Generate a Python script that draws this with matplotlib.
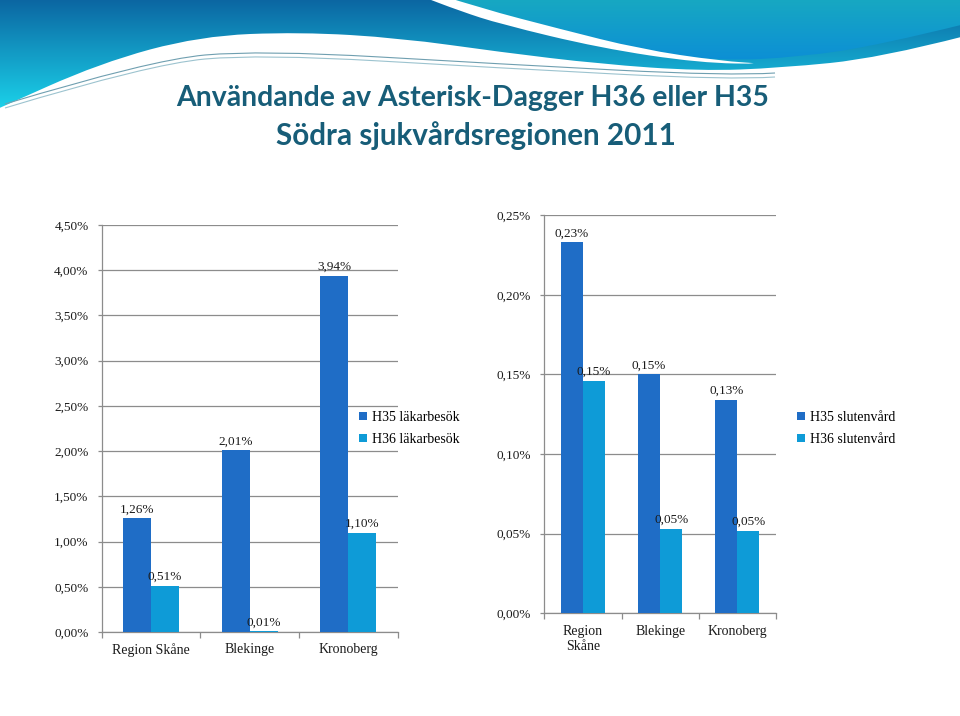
import matplotlib
matplotlib.use("Agg")
import matplotlib.pyplot as plt
import numpy as np
from matplotlib.path import Path
from matplotlib.patches import PathPatch, Patch
from matplotlib.colors import LinearSegmentedColormap
from matplotlib import font_manager as fm

# ---------------- data ----------------
categories_left = ["Region Skåne", "Blekinge", "Kronoberg"]
h35_lakarbesok = [1.26, 2.01, 3.94]
h36_lakarbesok = [0.51, 0.01, 1.10]
left_yticks = [0.0, 0.5, 1.0, 1.5, 2.0, 2.5, 3.0, 3.5, 4.0, 4.5]

categories_right = ["Region\nSkåne", "Blekinge", "Kronoberg"]
h35_slutenvard = [0.233, 0.150, 0.134]
h36_slutenvard = [0.146, 0.053, 0.052]
right_yticks = [0.0, 0.05, 0.10, 0.15, 0.20, 0.25]

legend_left = ["H35 läkarbesök", "H36 läkarbesök"]
legend_right = ["H35 slutenvård", "H36 slutenvård"]
title_lines = ["Användande av Asterisk-Dagger H36 eller H35",
               "Södra sjukvårdsregionen 2011"]

# ---------------- style ----------------
C35 = "#1f6dc6"
C36 = "#0e9bd7"
GRID = "#8c8c8c"
TITLE_C = "#175d78"
SERIF = ["Liberation Serif", "DejaVu Serif"]


def has_font(name):
    try:
        fm.findfont(fm.FontProperties(family=name), fallback_to_default=False)
        return True
    except Exception:
        return False


TITLE_FAMILY = [f for f in ["Lato", "Open Sans", "DejaVu Sans"] if has_font(f)][:1] + ["DejaVu Sans"]

W, H = 960, 716
fig = plt.figure(figsize=(W / 100, H / 100), dpi=100)
fig.patch.set_facecolor("white")

# ---------------- decorative header ----------------
bg = fig.add_axes([0, 0, 1, 1], zorder=-10)
bg.set_xlim(0, W)
bg.set_ylim(H, 0)
bg.axis("off")


def smooth_path(top_pts, curve_pts):
    verts, codes = [], []
    for i, p in enumerate(top_pts):
        verts.append(p)
        codes.append(Path.MOVETO if i == 0 else Path.LINETO)
    pts = np.array(curve_pts, float)
    verts.append(tuple(pts[0]))
    codes.append(Path.LINETO)
    for i in range(1, len(pts) - 1):
        mid = (pts[i] + pts[i + 1]) / 2
        verts += [tuple(pts[i]), tuple(mid)]
        codes += [Path.CURVE3, Path.CURVE3]
    verts.append(tuple(pts[-1]))
    codes.append(Path.LINETO)
    verts.append(top_pts[0])
    codes.append(Path.CLOSEPOLY)
    return Path(verts, codes)


def gradient_fill(path, c_top, c_bot, y0, y1, z):
    patch = PathPatch(path, facecolor="none", edgecolor="none", zorder=z)
    bg.add_patch(patch)
    cmap = LinearSegmentedColormap.from_list("g", [c_top, c_bot])
    grad = np.linspace(0, 1, 256).reshape(-1, 1)
    im = bg.imshow(grad, cmap=cmap, extent=[0, W, y1, y0], aspect="auto",
                   zorder=z, interpolation="bilinear")
    im.set_clip_path(patch)
    bg.set_xlim(0, W)
    bg.set_ylim(H, 0)


pathL = smooth_path([(-5, -5), (965, -5)],
                    [(965, 36), (880, 58), (780, 68), (700, 71), (600, 64),
                     (500, 52), (400, 38), (300, 32), (200, 36), (100, 63), (-5, 110)])
gradient_fill(pathL, "#0b66a2", "#1bd3ea", 0, 110, 1)

pathR = smooth_path([(425, -5), (965, -5)],
                    [(965, 24), (880, 45), (800, 57), (720, 61), (640, 50),
                     (560, 30), (480, 9), (425, -5)])
gradient_fill(pathR, "#17a8c2", "#0c8ed6", 0, 62, 2)

stripe = smooth_path([(418, -5), (440, -5)],
                     [(440, -5), (480, 8), (560, 29), (640, 49), (720, 61), (770, 64),
                      (700, 63), (600, 48), (500, 24), (460, 11), (418, -5)])
bg.add_patch(PathPatch(stripe, facecolor="white", edgecolor="none", zorder=3))

for dy, col in [(0, "#6f9fb0"), (4, "#9cc3cf")]:
    pts = np.array([(5, 104 + dy), (150, 60 + dy), (260, 50 + dy), (500, 64 + dy),
                    (730, 76 + dy), (820, 70 + dy)], float)
    verts = [tuple(pts[0])]
    codes = [Path.MOVETO]
    for i in range(1, len(pts) - 1):
        mid = (pts[i] + pts[i + 1]) / 2
        verts += [tuple(pts[i]), tuple(mid)]
        codes += [Path.CURVE3, Path.CURVE3]
    bg.add_patch(PathPatch(Path(verts, codes), facecolor="none", edgecolor=col,
                           lw=0.8, zorder=4))

# ---------------- title ----------------
fig.text(473 / W, 1 - 106 / H, title_lines[0], ha="center", va="baseline",
         fontsize=20.4, fontweight="bold", color=TITLE_C, family=TITLE_FAMILY)
fig.text(476 / W, 1 - 145 / H, title_lines[1], ha="center", va="baseline",
         fontsize=21.3, fontweight="bold", color=TITLE_C, family=TITLE_FAMILY)


# ---------------- charts ----------------
def pct(v):
    return f"{v:.2f}%".replace(".", ",")


def make_chart(rect, cats, s35, s36, yticks, xpad):
    ax = fig.add_axes(rect)
    ax.set_facecolor("none")
    x = np.arange(len(cats))
    w = 0.285
    b1 = ax.bar(x - w / 2, s35, w, color=C35, zorder=3)
    b2 = ax.bar(x + w / 2, s36, w, color=C36, zorder=3)
    for cont, vals in [(b1, s35), (b2, s36)]:
        ax.bar_label(cont, labels=[pct(v) for v in vals], padding=2,
                     fontsize=9.5, family=SERIF, color="#1a1a1a")
    ax.set_xlim(-0.5, len(cats) - 0.5)
    ax.set_ylim(yticks[0], yticks[-1])
    ax.set_yticks(yticks)
    ax.set_yticklabels([pct(v) for v in yticks], fontsize=9.5, family=SERIF,
                       color="#1a1a1a")
    ax.set_xticks(x)
    ax.set_xticklabels(cats, fontsize=10, family=SERIF, color="#1a1a1a",
                       linespacing=1.15)
    ax.set_xticks(np.arange(len(cats) + 1) - 0.5, minor=True)
    ax.tick_params(axis="x", which="major", length=0, pad=xpad)
    ax.tick_params(axis="x", which="minor", length=4, color=GRID, width=0.9)
    ax.tick_params(axis="y", length=3, color=GRID, width=0.9, pad=6.5)
    ax.yaxis.grid(True, color=GRID, lw=0.9, zorder=0)
    ax.set_axisbelow(True)
    for s in ["top", "right"]:
        ax.spines[s].set_visible(False)
    for s in ["left", "bottom"]:
        ax.spines[s].set_color(GRID)
        ax.spines[s].set_linewidth(0.9)
    return ax


axL = make_chart([101.7 / W, 1 - 632 / H, 296 / W, 407 / H],
                 categories_left, h35_lakarbesok, h36_lakarbesok, left_yticks, 8)
axR = make_chart([544.3 / W, 1 - 613.3 / H, 231.7 / W, 398 / H],
                 categories_right, h35_slutenvard, h36_slutenvard, right_yticks, 8.5)


def add_legend(labels, x_px, y_px):
    handles = [Patch(facecolor=C35, label=labels[0]),
               Patch(facecolor=C36, label=labels[1])]
    fig.legend(handles=handles, loc="upper left",
               bbox_to_anchor=(x_px / W, 1 - y_px / H), frameon=False,
               prop={"family": SERIF, "size": 10}, handlelength=0.55,
               handleheight=0.55, handletextpad=0.35, labelspacing=0.62,
               borderpad=0, borderaxespad=0)


add_legend(legend_left, 359, 411)
add_legend(legend_right, 797, 411)

fig.savefig("out.png", dpi=100, facecolor="white")
